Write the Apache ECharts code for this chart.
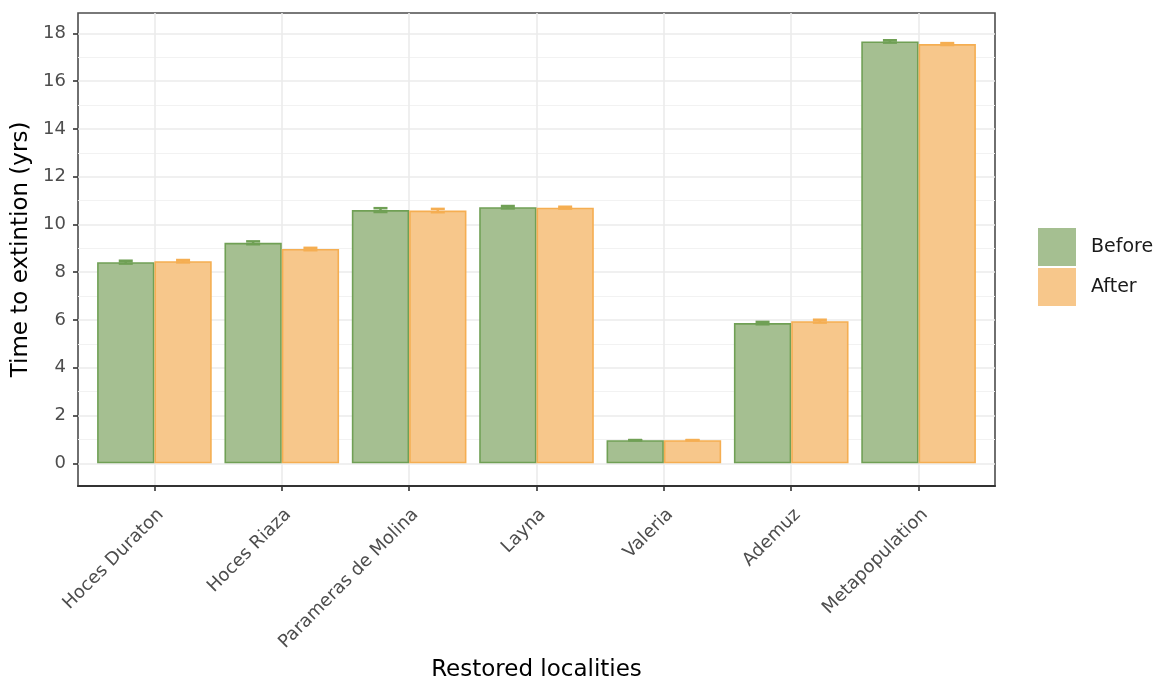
<!DOCTYPE html>
<html>
<head>
<meta charset="utf-8">
<title>Time to extinction before and after restoration</title>
<script src="https://cdn.jsdelivr.net/npm/echarts@6/dist/echarts.min.js"></script>
<style>
  html, body { margin: 0; padding: 0; background: #ffffff; }
  #chart { width: 1158px; height: 680px; }
</style>
</head>
<body>
<div id="chart"></div>
<script>
// Restored localities (x positions 1..n on the value axis)
const localities = ['Hoces Duraton', 'Hoces Riaza', 'Parameras de Molina', 'Layna', 'Valeria', 'Ademuz', 'Metapopulation'];

// Mean time to extinction (years)
const beforeValues = [8.42, 9.23, 10.60, 10.72, 0.97, 5.87, 17.66];
const afterValues  = [8.46, 8.97, 10.58, 10.70, 0.97, 5.95, 17.55];

// Standard errors drawn as error bars
const beforeErrors = [0.06, 0.06, 0.08, 0.05, 0.00, 0.05, 0.05];
const afterErrors  = [0.05, 0.05, 0.07, 0.04, 0.00, 0.06, 0.04];

// Axis ticks
const yMajorTicks = [0, 2, 4, 6, 8, 10, 12, 14, 16, 18];
const yMinorTicks = [1, 3, 5, 7, 9, 11, 13, 15, 17];
const xTicks = localities.map((_, i) => i + 1);

const seriesNames = ['Before', 'After'];

const GREEN_FILL = '#a5bf91';
const GREEN_LINE = '#70a055';
const ORANGE_FILL = '#f7c78b';
const ORANGE_LINE = '#f5ae52';

const FONT = 'DejaVu Sans';
const DODGE = 0.225;   // half of one bar's share of the category band
const CAP = 0.055;     // half width of an error bar cap, in axis units

function barData(values) {
  return values.map((v, i) => [i + 1, v]);
}
function errData(values, errors) {
  return values.map((v, i) => [i + 1, v, errors[i]]);
}
function errorBarRenderer(offset, color) {
  return function (params, api) {
    const x = api.value(0) + offset;
    const mean = api.value(1);
    const se = api.value(2);
    const hi = api.coord([x, mean + se]);
    const lo = api.coord([x, mean - se]);
    const left = api.coord([x - CAP, mean])[0];
    const right = api.coord([x + CAP, mean])[0];
    const style = { stroke: color, lineWidth: 2.5, fill: null };
    return {
      type: 'group',
      children: [
        { type: 'line', shape: { x1: left, y1: hi[1], x2: right, y2: hi[1] }, style },
        { type: 'line', shape: { x1: left, y1: lo[1], x2: right, y2: lo[1] }, style },
        { type: 'line', shape: { x1: hi[0], y1: hi[1], x2: lo[0], y2: lo[1] }, style }
      ]
    };
  };
}

const chart = echarts.init(document.getElementById('chart'), null, { renderer: 'canvas' });

chart.setOption({
  animation: false,
  backgroundColor: '#ffffff',
  textStyle: { fontFamily: FONT },
  grid: {
    left: 78, right: 163, top: 13, bottom: 194,
    outerBoundsMode: 'none',
    containLabel: false,
    show: true,
    borderColor: '#4d4d4d',
    borderWidth: 1.6,
    backgroundColor: 'transparent'
  },
  legend: {
    data: seriesNames,
    orient: 'vertical',
    left: 1033,
    top: 223,
    itemWidth: 38,
    itemHeight: 38,
    itemGap: 2,
    icon: 'rect',
    itemStyle: { borderWidth: 0 },
    textStyle: { fontFamily: FONT, fontSize: 19, color: '#1a1a1a', padding: [0, 0, 0, 10] }
  },
  xAxis: {
    type: 'value',
    min: 0.4,
    max: 7.6,
    name: 'Restored localities',
    nameLocation: 'middle',
    nameGap: 165,
    nameTextStyle: { fontFamily: FONT, fontSize: 23, color: '#000000' },
    axisLine: { show: true, onZero: false, lineStyle: { color: '#333333', width: 2 } },
    axisTick: { show: true, customValues: xTicks, length: 5, lineStyle: { color: '#333333', width: 1.6 } },
    axisLabel: {
      customValues: xTicks,
      rotate: 45,
      align: 'right',
      verticalAlign: 'top',
      margin: 4,
      padding: [11, 11, 0, 0],
      fontFamily: FONT,
      fontSize: 18,
      color: '#4d4d4d',
      formatter: v => localities[Math.round(v) - 1] || ''
    },
    splitLine: { show: true, lineStyle: { color: '#ebebeb', width: 1.6 } }
  },
  yAxis: [
    {
      type: 'value',
      min: -0.95,
      max: 18.85,
      name: 'Time to extintion (yrs)',
      nameLocation: 'middle',
      nameGap: 39,
      nameTextStyle: { fontFamily: FONT, fontSize: 23, color: '#000000' },
      axisLine: { show: false, onZero: false },
      axisTick: { show: true, customValues: yMajorTicks, length: 5, lineStyle: { color: '#333333', width: 1.6 } },
      axisLabel: {
        customValues: yMajorTicks,
        margin: 12,
        fontFamily: FONT,
        fontSize: 18,
        color: '#4d4d4d'
      },
      splitLine: { show: true, lineStyle: { color: '#ebebeb', width: 1.6 } }
    },
    {
      // minor grid only
      type: 'value',
      min: -0.95,
      max: 18.85,
      position: 'left',
      axisLine: { show: false },
      axisTick: { show: false, customValues: yMinorTicks },
      axisLabel: { show: false, customValues: yMinorTicks },
      splitLine: { show: true, lineStyle: { color: '#f2f2f2', width: 1 } }
    }
  ],
  series: [
    {
      name: 'Before',
      type: 'bar',
      data: barData(beforeValues),
      barWidth: '45%',
      barGap: '0%',
      itemStyle: { color: GREEN_FILL, borderColor: GREEN_LINE, borderWidth: 1.6 },
      z: 2
    },
    {
      name: 'After',
      type: 'bar',
      data: barData(afterValues),
      barWidth: '45%',
      barGap: '0%',
      itemStyle: { color: ORANGE_FILL, borderColor: ORANGE_LINE, borderWidth: 1.6 },
      z: 2
    },
    {
      name: 'Before SE',
      type: 'custom',
      data: errData(beforeValues, beforeErrors),
      renderItem: errorBarRenderer(-DODGE, GREEN_LINE),
      z: 3
    },
    {
      name: 'After SE',
      type: 'custom',
      data: errData(afterValues, afterErrors),
      renderItem: errorBarRenderer(DODGE, ORANGE_LINE),
      z: 3
    }
  ]
});
</script>
</body>
</html>
